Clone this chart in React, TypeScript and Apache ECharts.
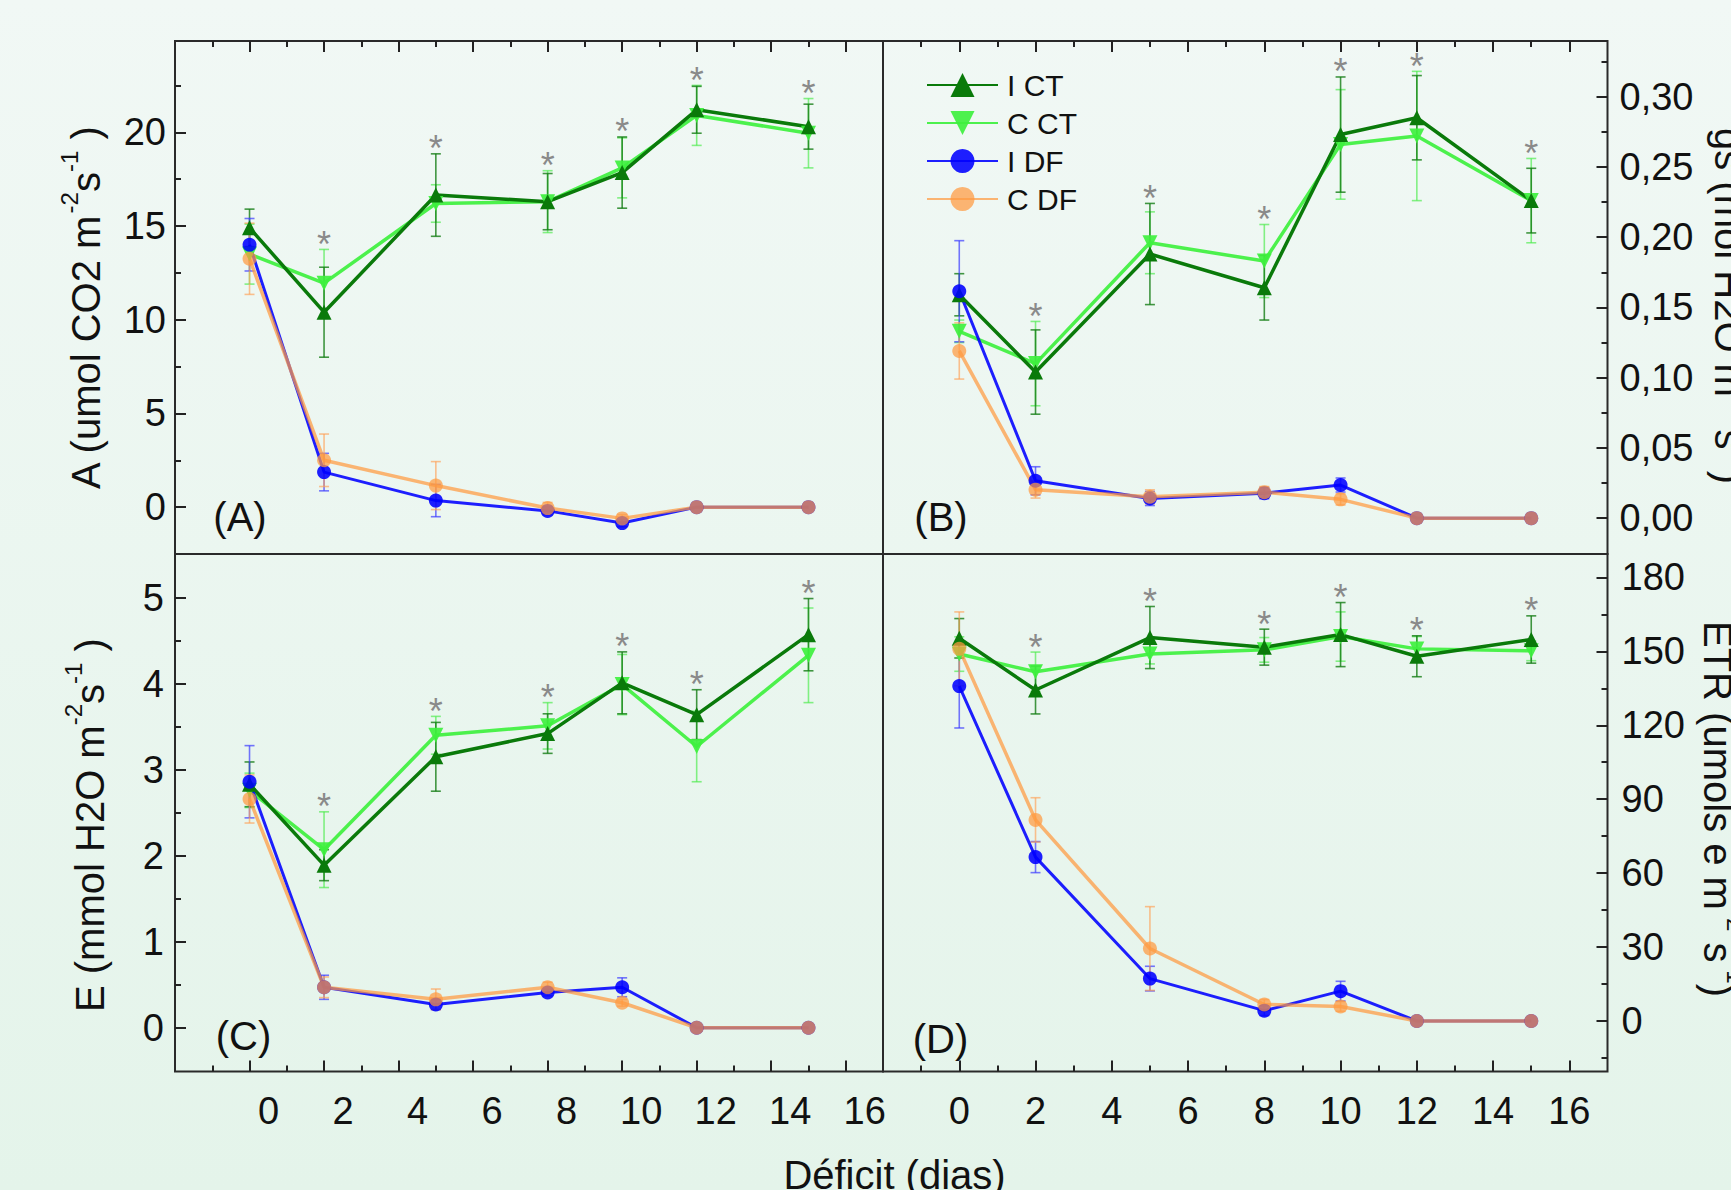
import React, { useEffect, useRef } from 'react';
import * as echarts from 'echarts';

const FONT = "'Liberation Sans', Arial, Helvetica, sans-serif";

// ---- data ----
const days = [0, 2, 5, 8, 10, 12, 15];
const starFlags = [false, true, true, true, true, true, true];
const seriesNames = ['I CT', 'C CT', 'I DF', 'C DF'];

// Panel A: A (umol CO2 m-2 s-1)
const aICT = [14.9, 10.4, 16.65, 16.3, 17.85, 21.2, 20.3];
const aICTErr = [1.0, 2.4, 2.2, 1.5, 1.9, 1.25, 1.2];
const aCCT = [13.5, 11.95, 16.2, 16.3, 18.1, 20.9, 19.95];
const aCCTErr = [1.6, 1.8, 1.0, 1.65, 1.6, 1.6, 1.85];
const aIDF = [14.0, 1.87, 0.35, -0.2, -0.85, 0, 0];
const aIDFErr = [1.4, 1.0, 0.86, 0.2, 0.2, 0, 0];
const aCDF = [13.25, 2.5, 1.15, -0.05, -0.6, 0, 0];
const aCDFErr = [1.9, 1.4, 1.28, 0.3, 0.2, 0, 0];

// Panel B: gs (mol H2O m-2 s-1)
const bICT = [0.159, 0.104, 0.188, 0.164, 0.273, 0.285, 0.226];
const bICTErr = [0.015, 0.03, 0.036, 0.023, 0.041, 0.03, 0.023];
const bCCT = [0.133, 0.11, 0.196, 0.183, 0.266, 0.272, 0.226];
const bCCTErr = [0.008, 0.03, 0.022, 0.026, 0.039, 0.046, 0.03];
const bIDF = [0.1615, 0.0266, 0.014, 0.0178, 0.0236, 0, 0];
const bIDFErr = [0.036, 0.01, 0.005, 0.004, 0.005, 0, 0];
const bCDF = [0.119, 0.0203, 0.0152, 0.0185, 0.0134, 0, 0];
const bCDFErr = [0.02, 0.006, 0.005, 0.004, 0.004, 0, 0];

// Panel C: E (mmol H2O m-2 s-1)
const cICT = [2.83, 1.89, 3.15, 3.42, 4.01, 3.64, 4.57];
const cICTErr = [0.26, 0.18, 0.4, 0.23, 0.36, 0.29, 0.42];
const cCCT = [2.76, 2.07, 3.4, 3.51, 3.99, 3.27, 4.33];
const cCCTErr = [0.2, 0.44, 0.22, 0.27, 0.35, 0.41, 0.55];
const cIDF = [2.86, 0.47, 0.27, 0.41, 0.47, 0, 0];
const cIDFErr = [0.42, 0.14, 0.06, 0.04, 0.11, 0, 0];
const cCDF = [2.66, 0.47, 0.33, 0.47, 0.29, 0, 0];
const cCDFErr = [0.28, 0.12, 0.12, 0.06, 0.04, 0, 0];

// Panel D: ETR (umols e m-2 s-1)
const dICT = [155.3, 134.3, 155.6, 151.7, 156.8, 148.0, 154.8];
const dICTErr = [8, 9.7, 12.6, 7.3, 13, 8.3, 9.6];
const dCCT = [148.9, 141.7, 148.9, 150.6, 156, 151, 150.2];
const dCCTErr = [7, 8, 4, 5, 10, 5, 4];
const dIDF = [135.9, 66.5, 17.2, 4.2, 12.1, 0, 0];
const dIDFErr = [17, 6.3, 5, 2, 4, 0, 0];
const dCDF = [151, 81.6, 29.4, 6.7, 5.9, 0, 0];
const dCDFErr = [15, 9, 17, 2, 2, 0, 0];

// ---- ticks ----
const xMajorTicks = [0, 2, 4, 6, 8, 10, 12, 14, 16];
const xMinorTicks = [-1, 1, 3, 5, 7, 9, 11, 13, 15];
const xTickLabels = [0, 2, 4, 6, 8, 10, 12, 14, 16];
const aMajorTicks = [0, 5, 10, 15, 20];
const aMinorTicks = [2.5, 7.5, 12.5, 17.5, 22.5];
const bMajorTicks = [0, 0.05, 0.1, 0.15, 0.2, 0.25, 0.3];
const bMinorTicks = [0.025, 0.075, 0.125, 0.175, 0.225, 0.275, 0.325];
const cMajorTicks = [0, 1, 2, 3, 4, 5];
const cMinorTicks = [0.5, 1.5, 2.5, 3.5, 4.5];
const dMajorTicks = [0, 30, 60, 90, 120, 150, 180];
const dMinorTicks = [-15, 15, 45, 75, 105, 135, 165];

const styles = [
  { color: '#0a7a0a', width: 3.5, symbol: 'triangle', size: 15, rotate: 0, opacity: 1, err: 'rgba(20,125,20,0.8)' },
  { color: '#3ef03e', width: 3.5, symbol: 'triangle', size: 15, rotate: 180, opacity: 0.92, err: 'rgba(70,235,70,0.65)' },
  { color: '#0000ff', width: 3, symbol: 'circle', size: 14, rotate: 0, opacity: 0.88, err: 'rgba(60,60,255,0.7)' },
  { color: '#ff9a40', width: 3.5, symbol: 'circle', size: 14, rotate: 0, opacity: 0.72, err: 'rgba(255,160,85,0.65)' },
];

const panels = [
  {
    grid: { left: 175, top: 41, width: 708, height: 513 },
    yMin: -2.5, yMax: 24.87, yPos: 'left', xPos: 'top', showX: false, xPad: 0, yMargin: 9,
    yMajor: aMajorTicks, yMinor: aMinorTicks, yFmt: (v: number) => String(v),
    vals: [aICT, aCCT, aIDF, aCDF], errs: [aICTErr, aCCTErr, aIDFErr, aCDFErr],
  },
  {
    grid: { left: 883, top: 41, width: 724.5, height: 513 },
    yMin: -0.0255, yMax: 0.3396, yPos: 'right', xPos: 'top', showX: false, xPad: 0, yMargin: 12,
    yMajor: bMajorTicks, yMinor: bMinorTicks, yFmt: (v: number) => v.toFixed(2).replace('.', ','),
    vals: [bICT, bCCT, bIDF, bCDF], errs: [bICTErr, bCCTErr, bIDFErr, bCDFErr],
  },
  {
    grid: { left: 175, top: 554, width: 708, height: 517.5 },
    yMin: -0.509, yMax: 5.508, yPos: 'left', xPos: 'bottom', showX: true, xPad: 38, yMargin: 11,
    yMajor: cMajorTicks, yMinor: cMinorTicks, yFmt: (v: number) => String(v),
    vals: [cICT, cCCT, cIDF, cCDF], errs: [cICTErr, cCCTErr, cIDFErr, cCDFErr],
  },
  {
    grid: { left: 883, top: 554, width: 724.5, height: 517.5 },
    yMin: -20.5, yMax: 189.5, yPos: 'right', xPos: 'bottom', showX: true, xPad: 0, yMargin: 14,
    yMajor: dMajorTicks, yMinor: dMinorTicks, yFmt: (v: number) => String(v),
    vals: [dICT, dCCT, dIDF, dCDF], errs: [dICTErr, dCCTErr, dIDFErr, dCDFErr],
  },
];

const panelLabels = [
  { text: '(A)', x: 240, y: 517 },
  { text: '(B)', x: 941, y: 517 },
  { text: '(C)', x: 243.5, y: 1036 },
  { text: '(D)', x: 940.5, y: 1039 },
];

const tickLine = { color: '#222', width: 2 };

function buildOption() {
  const grids: any[] = [];
  const xAxes: any[] = [];
  const yAxes: any[] = [];
  const series: any[] = [];

  panels.forEach((p, pi) => {
    grids.push({ ...p.grid, show: true, borderColor: '#2a2a2a', borderWidth: 2, backgroundColor: 'transparent', containLabel: false });
    xAxes.push({
      type: 'value', gridIndex: pi, min: -2, max: 17, position: p.xPos,
      axisLine: { show: false, onZero: false },
      axisTick: { show: true, inside: true, length: 11, customValues: xMajorTicks, lineStyle: tickLine },
      axisLabel: p.showX
        ? { show: true, customValues: xTickLabels, fontSize: 38, fontFamily: FONT, color: '#111', margin: 20, padding: [0, 0, 0, p.xPad], formatter: (v: number) => String(v) }
        : { show: false },
      splitLine: { show: false },
    });
    xAxes.push({
      type: 'value', gridIndex: pi, min: -2, max: 17, position: p.xPos,
      axisLine: { show: false, onZero: false },
      axisTick: { show: true, inside: true, length: 6, customValues: xMinorTicks, lineStyle: tickLine },
      axisLabel: { show: false },
      splitLine: { show: false },
    });
    yAxes.push({
      type: 'value', gridIndex: pi, min: p.yMin, max: p.yMax, position: p.yPos,
      axisLine: { show: false, onZero: false },
      axisTick: { show: true, inside: true, length: 11, customValues: p.yMajor, lineStyle: tickLine },
      axisLabel: { show: true, customValues: p.yMajor, fontSize: 38, fontFamily: FONT, color: '#111', margin: p.yMargin, formatter: p.yFmt },
      splitLine: { show: false },
    });
    yAxes.push({
      type: 'value', gridIndex: pi, min: p.yMin, max: p.yMax, position: p.yPos,
      axisLine: { show: false, onZero: false },
      axisTick: { show: true, inside: true, length: 6, customValues: p.yMinor, lineStyle: tickLine },
      axisLabel: { show: false },
      splitLine: { show: false },
    });

    const xi = pi * 2;
    const yi = pi * 2;
    // error bars
    [1, 0, 2, 3].forEach((si) => {
      const st = styles[si];
      series.push({
        type: 'custom', xAxisIndex: xi, yAxisIndex: yi, z: 2, silent: true,
        data: days.map((d, i) => [d, p.vals[si][i], p.errs[si][i]]),
        encode: { x: 0, y: 1 },
        renderItem: (params: any, api: any) => {
          const x = api.value(0);
          const y = api.value(1);
          const e = api.value(2);
          if (!e) return null;
          const t = api.coord([x, y + e]);
          const b = api.coord([x, y - e]);
          const cap = 5;
          const s = { stroke: st.err, lineWidth: 1.6 };
          return {
            type: 'group',
            children: [
              { type: 'line', shape: { x1: t[0], y1: t[1], x2: b[0], y2: b[1] }, style: s },
              { type: 'line', shape: { x1: t[0] - cap, y1: t[1], x2: t[0] + cap, y2: t[1] }, style: s },
              { type: 'line', shape: { x1: b[0] - cap, y1: b[1], x2: b[0] + cap, y2: b[1] }, style: s },
            ],
          };
        },
      });
    });
    // lines
    [1, 0, 2, 3].forEach((si) => {
      const st = styles[si];
      series.push({
        name: seriesNames[si], type: 'line', xAxisIndex: xi, yAxisIndex: yi, z: 3,
        data: days.map((d, i) => [d, p.vals[si][i]]),
        symbol: st.symbol, symbolSize: st.size, symbolRotate: st.rotate,
        lineStyle: { color: st.color, width: st.width, opacity: st.opacity },
        itemStyle: { color: st.color, opacity: st.opacity },
        emphasis: { disabled: true },
      });
    });
    // asterisks
    series.push({
      type: 'custom', xAxisIndex: xi, yAxisIndex: yi, z: 5, silent: true,
      data: days
        .map((d, i) => (starFlags[i] ? [d, Math.max(p.vals[0][i] + p.errs[0][i], p.vals[1][i] + p.errs[1][i])] : null))
        .filter((v) => v !== null),
      encode: { x: 0, y: 1 },
      renderItem: (params: any, api: any) => {
        const c = api.coord([api.value(0), api.value(1)]);
        return {
          type: 'text', x: c[0], y: c[1] - 5,
          style: { text: '*', fontSize: 36, fontFamily: FONT, fill: '#8a8a8a', align: 'center', verticalAlign: 'middle' },
        };
      },
    });
  });

  const titleRich = {
    m: { fontSize: 40, lineHeight: 58, fontFamily: FONT, fill: '#111' },
    s: { fontSize: 24, lineHeight: 24, fontFamily: FONT, fill: '#111', verticalAlign: 'top' },
  };

  const graphics: any[] = [
    {
      type: 'text', x: 86, y: 489, rotation: Math.PI / 2, silent: true,
      style: { text: '{m|A (umol CO2 m}{s|-2}{m|s}{s|-1}{m| )}', rich: titleRich, align: 'left', verticalAlign: 'middle' },
    },
    {
      type: 'text', x: 90, y: 1012, rotation: Math.PI / 2, silent: true,
      style: { text: '{m|E (mmol H2O m}{s|-2}{m|s}{s|-1}{m| )}', rich: titleRich, align: 'left', verticalAlign: 'middle' },
    },
    {
      type: 'text', x: 1729, y: 128, rotation: -Math.PI / 2, silent: true,
      style: { text: '{m|gs (mol H2O m}{s|-2}{m| s}{s|-1}{m|)}', rich: titleRich, align: 'left', verticalAlign: 'middle' },
    },
    {
      type: 'text', x: 1718, y: 621, rotation: -Math.PI / 2, silent: true,
      style: { text: '{m|ETR (umols e m}{s|-2}{m| s}{s|-1}{m|)}', rich: titleRich, align: 'left', verticalAlign: 'middle' },
    },
    {
      type: 'text', x: 894.5, y: 1175, silent: true,
      style: { text: 'Déficit (dias)', fontSize: 40, fontFamily: FONT, fill: '#111', align: 'center', verticalAlign: 'middle' },
    },
    ...panelLabels.map((l) => ({
      type: 'text', x: l.x, y: l.y, silent: true,
      style: { text: l.text, fontSize: 40, fontFamily: FONT, fill: '#111', align: 'center', verticalAlign: 'middle' },
    })),
  ];

  return {
    animation: false,
    backgroundColor: {
      type: 'linear', x: 0, y: 0, x2: 0, y2: 1,
      colorStops: [
        { offset: 0, color: '#f1f8f5' },
        { offset: 1, color: '#e4f4ea' },
      ],
    },
    textStyle: { fontFamily: FONT },
    grid: grids,
    xAxis: xAxes,
    yAxis: yAxes,
    legend: {
      data: seriesNames,
      orient: 'vertical', left: 926, top: 70, padding: 0,
      itemWidth: 71, itemHeight: 30, itemGap: 8,
      selectedMode: false,
      textStyle: { fontSize: 30, fontFamily: FONT, color: '#111', lineHeight: 30, padding: [0, 0, 0, 4] },
    },
    series,
    graphic: { elements: graphics },
  };
}

export default function App() {
  const ref = useRef<HTMLDivElement>(null);
  useEffect(() => {
    if (!ref.current) return;
    const chart = echarts.init(ref.current, null, { renderer: 'svg' });
    chart.setOption(buildOption() as any);
    return () => chart.dispose();
  }, []);
  return <div ref={ref} style={{ position: 'fixed', left: 0, top: 0, width: 1731, height: 1190 }} />;
}
